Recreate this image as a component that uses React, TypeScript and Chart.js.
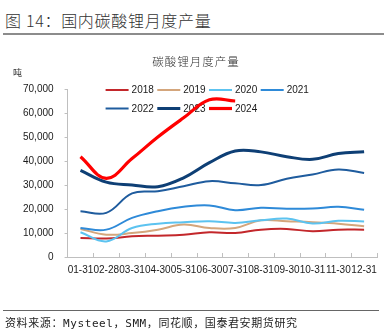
import React, { useEffect, useRef } from "react";
import { Chart, registerables } from "chart.js";

Chart.register(...registerables);

const categories = ["01-31", "02-28", "03-31", "04-30", "05-31", "06-30", "07-31", "08-31", "09-30", "10-31", "11-30", "12-31"];
const seriesNames = ["2018", "2019", "2020", "2021", "2022", "2023", "2024"];
const v2018 = [7900, 7700, 8600, 8900, 9300, 10300, 10000, 11400, 11700, 10700, 11400, 11400];
const v2019 = [11700, 9300, 10000, 11400, 13500, 12100, 12100, 15300, 14900, 14500, 13900, 12800];
const v2020 = [10300, 6500, 12100, 13900, 14500, 14900, 14200, 15300, 16000, 14000, 15100, 14800];
const v2021 = [12100, 11400, 16300, 19100, 20900, 21500, 19500, 20500, 20100, 20200, 20900, 19700];
const v2022 = [19100, 18400, 26500, 27400, 29500, 31600, 30700, 30000, 32600, 34400, 36500, 35000];
const v2023 = [36100, 31200, 30000, 29300, 33000, 39300, 44200, 43800, 41800, 40700, 43100, 43900];
const v2024 = [41800, 32800, 41000, 50000, 58000, 65500, 65000];
const yMin = 0;
const yMax = 70000;
const yStep = 10000;

const seriesValues = [v2018, v2019, v2020, v2021, v2022, v2023, v2024];
const seriesColors = ["#C3272B", "#D4A67C", "#5CC3F0", "#2E8AD8", "#1F5C9E", "#0E3F75", "#FF0000"];
const seriesWidths = [2, 2, 2, 2, 2, 3, 3.2];

const FONT = "'Liberation Sans', Arial, sans-serif";

const innerTicks = {
  id: "innerTicks",
  afterDatasetsDraw(chart: any) {
    const x = chart.scales.x;
    const ctx = chart.ctx;
    const bottom = chart.chartArea.bottom;
    ctx.save();
    ctx.strokeStyle = "#BFBFBF";
    ctx.lineWidth = 1;
    const n = x.ticks.length;
    for (let i = 1; i <= n; i++) {
      const px = i < n ? (x.getPixelForValue(i - 1) + x.getPixelForValue(i)) / 2 : x.right;
      const rx = Math.round(px) + 0.5;
      ctx.beginPath();
      ctx.moveTo(rx, bottom);
      ctx.lineTo(rx, bottom - 4);
      ctx.stroke();
    }
    ctx.restore();
  },
};

const lineLegend = {
  id: "lineLegend",
  beforeDatasetsDraw(chart: any) {
    const { ctx, chartArea } = chart;
    const ds = chart.data.datasets;
    ctx.save();
    ctx.font = "10px " + FONT;
    ctx.textBaseline = "middle";
    ctx.textAlign = "left";
    ctx.fillStyle = "#1a1a1a";
    ds.forEach((d: any, i: number) => {
      const row = Math.floor(i / 4);
      const col = i % 4;
      const x0 = chartArea.left + 38 + col * 51.7;
      const y = chartArea.top + 1 + row * 18.5;
      ctx.strokeStyle = d.borderColor;
      ctx.lineWidth = d.borderWidth;
      ctx.beginPath();
      ctx.moveTo(x0, y);
      ctx.lineTo(x0 + 23, y);
      ctx.stroke();
      ctx.fillText(d.label, x0 + 26, y + 0.5);
    });
    ctx.restore();
  },
};

export default function App() {
  const canvasRef = useRef<HTMLCanvasElement | null>(null);

  useEffect(() => {
    if (!canvasRef.current) return;
    const chart = new Chart(canvasRef.current, {
      type: "line",
      data: {
        labels: categories,
        datasets: seriesNames.map((name, i) => ({
          label: name,
          data: seriesValues[i],
          borderColor: seriesColors[i],
          backgroundColor: seriesColors[i],
          borderWidth: seriesWidths[i],
          pointRadius: 0,
          pointHoverRadius: 0,
          tension: 0.4,
          fill: false,
          order: seriesNames.length - i,
        })),
      },
      options: {
        responsive: false,
        animation: false,
        events: [],
        layout: { padding: { top: 89, left: 12, right: 10, bottom: 58 } },
        plugins: {
          legend: { display: false },
          title: { display: false },
          tooltip: { enabled: false },
        },
        scales: {
          x: {
            type: "category",
            offset: true,
            grid: { display: true, drawOnChartArea: false, drawTicks: false, color: "#BFBFBF" },
            border: { display: true, color: "#BFBFBF", width: 1 },
            afterFit: (scale: any) => {
              scale.height = 20;
            },
            ticks: {
              autoSkip: false,
              maxRotation: 0,
              minRotation: 0,
              padding: 7,
              color: "#1a1a1a",
              font: { family: FONT, size: 10 },
            },
          },
          y: {
            min: yMin,
            max: yMax,
            grid: { display: true, drawOnChartArea: false, drawTicks: true, tickLength: 3, color: "#BFBFBF" },
            border: { display: true, color: "#BFBFBF", width: 1 },
            ticks: {
              stepSize: yStep,
              padding: 11,
              color: "#1a1a1a",
              font: { family: FONT, size: 10 },
              callback: (v: any) => Number(v).toLocaleString("en-US"),
            },
          },
        },
      },
      plugins: [lineLegend, innerTicks],
    });
    return () => chart.destroy();
  }, []);

  const cjk = "'Noto Sans CJK SC', sans-serif";

  return (
    <div style={{ position: "absolute", left: 0, top: 0, width: 387, height: 335, background: "#fff", overflow: "hidden" }}>
      <div style={{ position: "absolute", left: 5, top: 9, fontFamily: cjk, fontSize: 16, fontWeight: 300, lineHeight: "22px", color: "#333", letterSpacing: "0.7px", whiteSpace: "nowrap" }}>
        图 14：国内碳酸锂月度产量
      </div>
      <div style={{ position: "absolute", left: 3, right: 3, top: 33, height: 1.5, background: "#8C8C8C" }} />
      <canvas ref={canvasRef} width={387} height={335} style={{ position: "absolute", left: 0, top: 0 }} />
      <div style={{ position: "absolute", left: 0, width: 392, top: 54, textAlign: "center", fontFamily: cjk, fontSize: 11.5, fontWeight: 300, lineHeight: "15px", color: "#333", letterSpacing: "1px", whiteSpace: "nowrap" }}>
        碳酸锂月度产量
      </div>
      <div style={{ position: "absolute", left: 13, top: 67, fontFamily: cjk, fontSize: 9, lineHeight: "12px", color: "#333" }}>吨</div>
      <div style={{ position: "absolute", left: 3, right: 8, top: 310, height: 1, background: "#666" }} />
      <div style={{ position: "absolute", left: 5, top: 316, fontFamily: "'DejaVu Sans Mono', " + cjk, fontSize: 11, lineHeight: "16px", color: "#222", letterSpacing: "0.6px", whiteSpace: "nowrap" }}>
        资料来源：Mysteel，SMM，同花顺，国泰君安期货研究
      </div>
    </div>
  );
}
